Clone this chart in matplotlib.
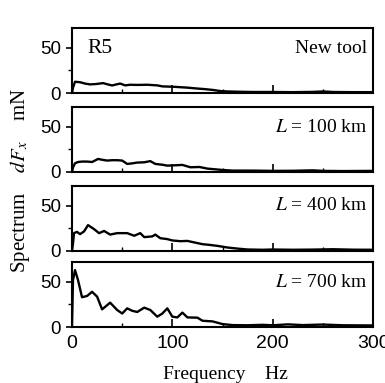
import numpy as np
import matplotlib
matplotlib.use("Agg")
import matplotlib.pyplot as plt
from matplotlib.ticker import MultipleLocator

# spectra (frequency Hz, value mN)
freq_tool = [0, 1, 3, 8, 13, 18, 24, 31, 36, 40, 44, 48, 53, 58, 65, 75, 85, 90, 95, 102, 108, 115, 125, 132, 140, 148, 155, 165, 180, 200, 220, 240, 250, 260, 280, 300]
spec_tool = [0, 6, 12.5, 12, 10.5, 9.6, 10, 11, 9.5, 8.4, 9.5, 10.5, 8.5, 9.2, 9, 9.2, 8.5, 7.4, 7.2, 6.9, 6.5, 6, 5, 4.4, 3.5, 2.2, 1.8, 1.5, 1.2, 1.2, 1.0, 1.3, 1.8, 1.2, 1.0, 1.0]

freq_100 = [0, 1, 3, 6, 10, 15, 20, 26, 30, 35, 40, 45, 50, 55, 60, 65, 72, 78, 83, 90, 95, 103, 110, 118, 127, 135, 142, 150, 160, 180, 200, 220, 240, 250, 270, 300]
spec_100 = [0, 5, 9.6, 11, 11.5, 11.5, 11, 14.4, 13.5, 12.6, 13, 13, 12.6, 8.9, 9.5, 10.4, 10.7, 12, 8.9, 8, 7, 7.4, 7.8, 5.2, 5.5, 3.7, 3, 2.2, 1.5, 1.5, 1.2, 1.3, 1.8, 1.2, 1.0, 1.2]

freq_400 = [0, 1, 2, 5, 8, 12, 16, 22, 27, 32, 38, 45, 55, 62, 68, 72, 80, 83, 88, 95, 100, 108, 115, 122, 130, 138, 145, 155, 165, 175, 190, 200, 220, 240, 260, 280, 300]
spec_400 = [0, 8, 19.6, 21, 18.5, 21.5, 28.5, 24, 19.6, 22, 18, 19.6, 19.6, 16.7, 19.6, 15.2, 16, 18, 14, 13, 11.5, 10.7, 11, 9.3, 7.4, 6.5, 5.5, 3.7, 2.5, 1.5, 1.2, 1.5, 1.2, 1.4, 1.8, 1.3, 1.2]

freq_700 = [0, 1, 3, 6, 10, 15, 20, 25, 30, 38, 45, 50, 55, 60, 65, 72, 78, 85, 90, 95, 100, 105, 110, 115, 125, 130, 140, 150, 160, 175, 190, 200, 215, 230, 250, 270, 300]
spec_700 = [0, 52, 63, 52, 33, 34.4, 39, 33.7, 19.6, 27, 18.9, 15, 20.7, 18, 16.7, 21.5, 18.9, 11.5, 15, 20.7, 11.5, 10.7, 16, 10.7, 10.4, 7, 6.3, 3.3, 2.2, 2.0, 2.5, 2.0, 3.0, 2.2, 2.8, 2.0, 1.8]

labels = ["New tool", "$L$ = 100 km", "$L$ = 400 km", "$L$ = 700 km"]
freqs = [freq_tool, freq_100, freq_400, freq_700]
specs = [spec_tool, spec_100, spec_400, spec_700]

plt.rcParams["mathtext.fontset"] = "stix"
serif = "Liberation Serif"
sans = "Liberation Sans"

fig = plt.figure(figsize=(3.85, 3.83), dpi=100)
bottoms = [0.757, 0.551, 0.345, 0.146]
axes = []
for i in range(4):
    ax = fig.add_axes([0.187, bottoms[i], 0.782, 0.170])
    ax.plot(freqs[i], specs[i], color="black", lw=1.7)
    ax.set_xlim(0, 300)
    ax.set_ylim(0, 72)
    ax.set_yticks([0, 50])
    ax.yaxis.set_minor_locator(MultipleLocator(25))
    ax.set_xticks([0, 100, 200, 300])
    ax.xaxis.set_minor_locator(MultipleLocator(50))
    ax.tick_params(axis="x", which="major", direction="in", length=6, width=1.2)
    ax.tick_params(axis="x", which="minor", direction="in", length=3, width=1.0)
    ax.tick_params(axis="y", which="major", direction="out", length=4, width=1.2, pad=4)
    ax.tick_params(axis="y", which="minor", direction="out", length=3, width=1.0)
    for lab in ax.get_yticklabels():
        lab.set_fontfamily(sans)
        lab.set_fontsize(13.5)
    if i < 3:
        ax.tick_params(axis="x", labelbottom=False)
    else:
        ax.tick_params(axis="x", pad=6)
        for lab in ax.get_xticklabels():
            lab.set_fontfamily(sans)
            lab.set_fontsize(14)
    for s in ax.spines.values():
        s.set_linewidth(1.5)
    ax.text(0.98, 0.69, labels[i], transform=ax.transAxes, ha="right", va="center",
            fontsize=14, family=serif)
    axes.append(ax)

axes[0].text(0.05, 0.69, "R5", transform=axes[0].transAxes, ha="left", va="center",
             fontsize=15.5, family=serif)

fig.text(0.585, 0.022, "Frequency    Hz", ha="center", va="center", fontsize=14, family=serif)
fig.text(0.052, 0.53, "Spectrum    $dF_x$    mN", ha="center", va="center", rotation=90,
         fontsize=15, family=serif)

fig.savefig("out.png", dpi=100)
